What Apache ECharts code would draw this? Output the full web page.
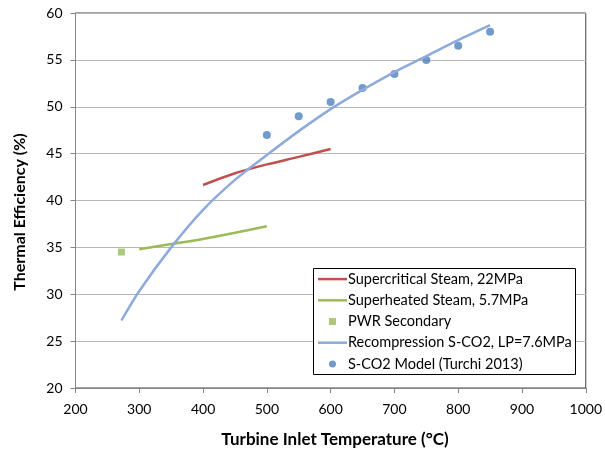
<!DOCTYPE html>
<html>
<head>
<meta charset="utf-8">
<script src="https://cdn.jsdelivr.net/npm/echarts@6/dist/echarts.min.js"></script>
<style>
  html, body { margin: 0; padding: 0; background: #fff; }
  #chart { width: 605px; height: 450px; }
</style>
</head>
<body>
<div id="chart"></div>
<script>
// Cycle efficiency versus turbine inlet temperature
const xTicks = [200, 300, 400, 500, 600, 700, 800, 900, 1000];
const yTicks = [20, 25, 30, 35, 40, 45, 50, 55, 60];

const xTitle = 'Turbine Inlet Temperature (°C)';
const yTitle = 'Thermal Efficiency (%)';

const seriesNames = [
  'Supercritical Steam, 22MPa',
  'Superheated Steam, 5.7MPa',
  'PWR Secondary',
  'Recompression S-CO2, LP=7.6MPa',
  'S-CO2 Model (Turchi 2013)'
];

const superCritTemp = [400, 450, 500, 550, 600];
const superCritEff = [41.65, 42.9, 43.85, 44.65, 45.5];

const superHeatTemp = [300, 350, 400, 450, 500];
const superHeatEff = [34.8, 35.35, 35.9, 36.55, 37.25];

const pwrTemp = [272];
const pwrEff = [34.5];

const recompTemp = [272, 300, 350, 400, 450, 500, 550, 600, 650, 700, 750, 800, 850];
const recompEff = [27.2, 30.35, 35.0, 39.0, 42.2, 44.85, 47.4, 49.75, 51.8, 53.7, 55.4, 57.1, 58.7];

const modelTemp = [500, 550, 600, 650, 700, 750, 800, 850];
const modelEff = [47, 49, 50.5, 52, 53.5, 55, 56.5, 58];

const pair = (xs, ys) => xs.map((x, i) => [x, ys[i]]);

const FONT = 'Lato';
const squarePath = 'path://M0,0L10,0L10,10L0,10Z';
const barIcon = 'path://M0,0L29,0L29,2.5L0,2.5Z';

const chart = echarts.init(document.getElementById('chart'), null, { renderer: 'canvas' });

chart.setOption({
  backgroundColor: '#ffffff',
  animation: false,
  textStyle: { fontFamily: FONT },
  grid: {
    left: 75.5, right: 17, top: 13, bottom: 62,
    show: true, borderColor: '#404040', borderWidth: 1
  },
  xAxis: {
    type: 'value',
    min: xTicks[0], max: xTicks[xTicks.length - 1], interval: 100,
    axisLine: { show: true, onZero: false, lineStyle: { color: '#868686', width: 1 } },
    axisTick: { show: true, inside: false, length: 5, lineStyle: { color: '#868686' } },
    axisLabel: { fontFamily: FONT, fontSize: 14, color: '#000', margin: 14, formatter: v => String(v) },
    splitLine: { show: false }
  },
  yAxis: {
    type: 'value',
    min: yTicks[0], max: yTicks[yTicks.length - 1], interval: 5,
    axisLine: { show: true, onZero: false, lineStyle: { color: '#868686', width: 1 } },
    axisTick: { show: true, inside: false, length: 5, lineStyle: { color: '#868686' } },
    axisLabel: { fontFamily: FONT, fontSize: 14, color: '#000', margin: 13, formatter: v => String(v) },
    splitLine: { show: true, lineStyle: { color: '#b8b8b8', width: 1 } }
  },
  graphic: [
    {
      type: 'rect',
      z: 3,
      shape: { x: 313.5, y: 268.5, width: 262, height: 106 },
      style: { fill: '#ffffff', stroke: '#000000', lineWidth: 1 }
    },
    {
      type: 'text',
      x: 335, y: 440,
      style: {
        text: xTitle, fontFamily: FONT, fontWeight: 'bold', fontSize: 17,
        fill: '#000', align: 'center', verticalAlign: 'middle'
      }
    },
    {
      type: 'text',
      x: 20, y: 212,
      rotation: Math.PI / 2,
      style: {
        text: yTitle, fontFamily: FONT, fontWeight: 'bold', fontSize: 16,
        fill: '#000', align: 'center', verticalAlign: 'middle'
      }
    }
  ],
  legend: {
    orient: 'vertical',
    left: 318, top: 268.5,
    padding: 0,
    itemWidth: 29, itemHeight: 7, itemGap: 0,
    z: 5,
    textStyle: { fontFamily: FONT, fontSize: 14.5, color: '#000', lineHeight: 21.2, padding: [0, 0, 0, -4] },
    data: [
      { name: seriesNames[0], icon: barIcon },
      { name: seriesNames[1], icon: barIcon },
      { name: seriesNames[2] },
      { name: seriesNames[3], icon: barIcon },
      { name: seriesNames[4] }
    ]
  },
  series: [
    {
      name: seriesNames[0], type: 'line', data: pair(superCritTemp, superCritEff),
      smooth: 0.3, symbol: 'none', color: '#c0504d',
      lineStyle: { color: '#c0504d', width: 2.5 }
    },
    {
      name: seriesNames[1], type: 'line', data: pair(superHeatTemp, superHeatEff),
      smooth: 0.3, symbol: 'none', color: '#9bbb59',
      lineStyle: { color: '#9bbb59', width: 2.5 }
    },
    {
      name: seriesNames[2], type: 'scatter', data: pair(pwrTemp, pwrEff),
      symbol: squarePath, symbolSize: 7, symbolKeepAspect: true,
      itemStyle: { color: '#9bbb59' }
    },
    {
      name: seriesNames[3], type: 'line', data: pair(recompTemp, recompEff),
      smooth: 0.3, symbol: 'none', color: '#8eaadb',
      lineStyle: { color: '#8eaadb', width: 2.5 }
    },
    {
      name: seriesNames[4], type: 'scatter', data: pair(modelTemp, modelEff),
      symbol: 'circle', symbolSize: 8,
      itemStyle: { color: '#4f81bd' }
    }
  ]
});
</script>
</body>
</html>
